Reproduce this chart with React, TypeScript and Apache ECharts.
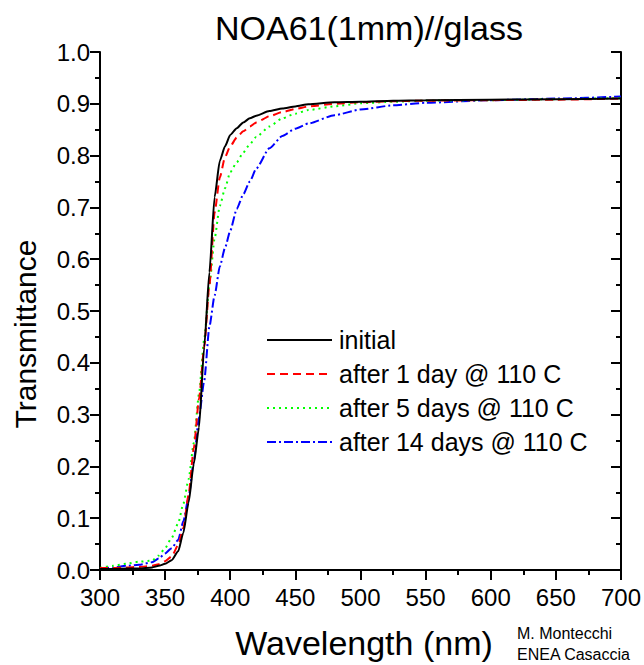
import React, { useEffect, useRef } from "react";
import * as echarts from "echarts";

const wavelengths = [300, 310, 320, 330, 340, 345, 350, 355, 360, 364, 368, 372, 376, 380, 384, 388, 392, 396, 400, 405, 410, 415, 420, 430, 440, 450, 460, 480, 500, 525, 550, 600, 650, 700];

const initial = [0.002, 0.002, 0.003, 0.003, 0.005, 0.008, 0.012, 0.019, 0.036, 0.072, 0.13, 0.205, 0.275, 0.43, 0.575, 0.72, 0.79, 0.818, 0.84, 0.853, 0.864, 0.872, 0.877, 0.886, 0.891, 0.895, 0.899, 0.903, 0.904, 0.906, 0.907, 0.908, 0.909, 0.91];
const day1 = [0.004, 0.004, 0.005, 0.006, 0.008, 0.011, 0.017, 0.026, 0.048, 0.081, 0.145, 0.235, 0.33, 0.43, 0.55, 0.69, 0.758, 0.797, 0.818, 0.835, 0.847, 0.856, 0.864, 0.876, 0.884, 0.89, 0.895, 0.9, 0.903, 0.905, 0.906, 0.907, 0.908, 0.91];
const days5 = [0.004, 0.008, 0.012, 0.016, 0.018, 0.028, 0.042, 0.062, 0.09, 0.128, 0.175, 0.245, 0.34, 0.445, 0.55, 0.64, 0.703, 0.737, 0.768, 0.787, 0.806, 0.822, 0.836, 0.856, 0.872, 0.881, 0.888, 0.895, 0.901, 0.904, 0.906, 0.907, 0.909, 0.911];
const days14 = [0.003, 0.005, 0.008, 0.01, 0.015, 0.022, 0.032, 0.042, 0.058, 0.094, 0.14, 0.21, 0.295, 0.365, 0.47, 0.53, 0.586, 0.622, 0.655, 0.697, 0.725, 0.75, 0.775, 0.814, 0.838, 0.852, 0.862, 0.878, 0.889, 0.897, 0.902, 0.907, 0.91, 0.914];

const seriesNames = ["initial", "after 1 day @ 110 C", "after 5 days @ 110 C", "after 14 days @ 110 C"];
const seriesValues = [initial, day1, days5, days14];
const seriesColors = ["#000000", "#ff0000", "#00ff00", "#0000ff"];
const seriesDash: any[] = ["solid", [8, 5], [2, 4], [9, 3, 2, 3]];

const FONT = "'Liberation Sans', Arial, Helvetica, sans-serif";

export default function App() {
  const ref = useRef<HTMLDivElement>(null);
  useEffect(() => {
    if (!ref.current) return;
    const chart = echarts.init(ref.current, null, { renderer: "svg" });
    const axisLine = { show: true, lineStyle: { color: "#000", width: 2 } };
    const xCommon = {
      type: "value",
      min: 300,
      max: 700,
      interval: 50,
      splitLine: { show: false },
      axisLine,
      minorTick: { show: true, splitNumber: 2, length: 5, lineStyle: { color: "#000", width: 2 } },
    };
    const yCommon = {
      type: "value",
      min: 0,
      max: 1,
      interval: 0.1,
      splitLine: { show: false },
      axisLine,
      minorTick: { show: true, splitNumber: 2, length: 5, lineStyle: { color: "#000", width: 2 } },
    };
    chart.setOption({
      animation: false,
      backgroundColor: "#fff",
      textStyle: { fontFamily: FONT },
      title: {
        text: "NOA61(1mm)//glass",
        left: 364,
        top: 6,
        textAlign: "center",
        textStyle: { fontFamily: FONT, fontSize: 34, fontWeight: "normal", color: "#000" },
      },
      grid: { left: 100, right: 23, top: 52, bottom: 93, containLabel: false },
      legend: {
        left: 261,
        top: 318,
        orient: "vertical",
        itemWidth: 65,
        itemHeight: 4,
        itemGap: 0,
        data: seriesNames,
        itemStyle: { opacity: 0 },
        textStyle: { fontFamily: FONT, fontSize: 25, color: "#000", lineHeight: 34, padding: [0, 0, 0, 2] },
      },
      xAxis: [
        {
          ...xCommon,
          position: "bottom",
          axisTick: { show: true, inside: false, length: 10, lineStyle: { color: "#000", width: 2 } },
          axisLabel: { show: true, margin: 15, fontFamily: FONT, fontSize: 24, color: "#000" },
          name: "Wavelength (nm)",
          nameLocation: "middle",
          nameGap: 56,
          nameTextStyle: { fontFamily: FONT, fontSize: 34, color: "#000", padding: [0, 0, 0, 7] },
        },
        {
          ...xCommon,
          position: "top",
          axisTick: { show: true, inside: true, length: 10, lineStyle: { color: "#000", width: 2 } },
          axisLabel: { show: false },
        },
      ],
      yAxis: [
        {
          ...yCommon,
          position: "left",
          axisTick: { show: true, inside: false, length: 10, lineStyle: { color: "#000", width: 2 } },
          axisLabel: {
            show: true,
            margin: 10,
            fontFamily: FONT,
            fontSize: 24,
            color: "#000",
            formatter: (v: number) => v.toFixed(1),
          },
        },
        {
          ...yCommon,
          position: "right",
          axisTick: { show: true, inside: true, length: 10, lineStyle: { color: "#000", width: 2 } },
          axisLabel: { show: false },
        },
      ],
      graphic: [
        {
          type: "text",
          x: 25,
          y: 334,
          rotation: Math.PI / 2,
          style: {
            text: "Transmittance",
            fontFamily: FONT,
            fontSize: 30,
            fill: "#000",
            align: "center",
            verticalAlign: "middle",
          },
        },
        {
          type: "text",
          x: 517,
          y: 633,
          style: { text: "M. Montecchi", fontFamily: FONT, fontSize: 16, fill: "#000", align: "left", verticalAlign: "middle" },
        },
        {
          type: "text",
          x: 517,
          y: 654,
          style: { text: "ENEA Casaccia", fontFamily: FONT, fontSize: 16, fill: "#000", align: "left", verticalAlign: "middle" },
        },
      ],
      series: seriesNames.map((name, i) => ({
        name,
        type: "line",
        xAxisIndex: 0,
        yAxisIndex: 0,
        symbol: "none",
        showSymbol: false,
        smooth: 0.2,
        smoothMonotone: "x",
        z: 10 - i,
        data: wavelengths.map((w, j) => [w, seriesValues[i][j]]),
        lineStyle: { color: seriesColors[i], width: 2, type: seriesDash[i] },
        itemStyle: { color: seriesColors[i] },
      })),
    });
    return () => chart.dispose();
  }, []);
  return <div ref={ref} style={{ position: "absolute", left: 0, top: 0, width: 644, height: 665 }} />;
}
